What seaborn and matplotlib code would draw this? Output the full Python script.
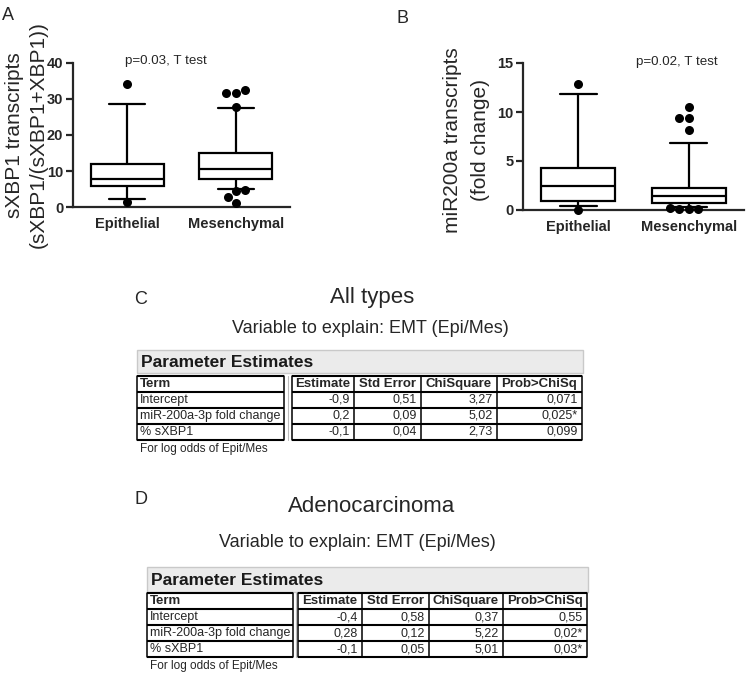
import numpy as np
import pandas as pd
import matplotlib
matplotlib.use("Agg")
import matplotlib.pyplot as plt
import seaborn as sns
from matplotlib.patches import Rectangle

# ---------------- data ----------------
categories = ["Epithelial", "Mesenchymal"]

# five-number summaries: [lower whisker, Q1, median, Q3, upper whisker]
sxbp1_epi_box = [2.1, 5.8, 7.7, 11.9, 28.6]
sxbp1_mes_box = [4.9, 7.7, 10.5, 15.0, 27.4]
sxbp1_epi_out = [34.1, 1.3]
sxbp1_mes_out = [31.8, 31.8, 32.6, 27.8, 4.8, 4.4, 2.7, 1.1]
sxbp1_ticks = [0, 10, 20, 30, 40]

mir_epi_box = [0.4, 0.95, 2.45, 4.3, 11.8]
mir_mes_box = [0.3, 0.75, 1.45, 2.25, 6.8]
mir_epi_out = [12.9, 0.05]
mir_mes_out = [10.5, 9.4, 9.4, 8.2, 0.1, 0.15, 0.1, 0.2]
mir_ticks = [0, 5, 10, 15]

table_header = ["Term", "Estimate", "Std Error", "ChiSquare", "Prob>ChiSq"]
terms = ["Intercept", "miR-200a-3p fold change", "% sXBP1"]
all_estimate = ["-0,9", "0,2", "-0,1"]
all_stderr = ["0,51", "0,09", "0,04"]
all_chisq = ["3,27", "5,02", "2,73"]
all_prob = ["0,071", "0,025*", "0,099"]
adeno_estimate = ["-0,4", "0,28", "-0,1"]
adeno_stderr = ["0,58", "0,12", "0,05"]
adeno_chisq = ["0,37", "5,22", "5,01"]
adeno_prob = ["0,55", "0,02*", "0,03*"]

# ---------------- style ----------------
sns.set_style("ticks")
plt.rcParams["font.family"] = ["Liberation Sans", "DejaVu Sans"]

W, H = 747, 677
fig = plt.figure(figsize=(W / 100, H / 100), dpi=100)


def rect(x0, y_bottom, w, h):
    return [x0 / W, 1 - y_bottom / H, w / W, h / H]


def box_panel(ax, box_epi, box_mes, out_epi, out_mes, ymax, ticks):
    df = pd.DataFrame({
        "group": [categories[0]] * len(box_epi) + [categories[1]] * len(box_mes),
        "value": box_epi + box_mes,
    })
    sns.boxplot(data=df, x="group", y="value", order=categories, whis=(0, 100),
                showfliers=False, width=0.67, color="white", linecolor="black",
                linewidth=1.6, saturation=1, ax=ax)
    dfo = pd.DataFrame({
        "group": [categories[0]] * len(out_epi) + [categories[1]] * len(out_mes),
        "value": out_epi + out_mes,
    })
    sns.swarmplot(data=dfo, x="group", y="value", order=categories, color="black",
                  size=6.5, ax=ax, zorder=5)
    for coll in ax.collections:
        coll.set_clip_on(False)
    ax.set_xlim(-0.5, 1.5)
    ax.set_ylim(0, ymax)
    ax.set_yticks(ticks)
    ax.set_xlabel("")
    ax.set_ylabel("")
    sns.despine(ax=ax)
    for s in ["left", "bottom"]:
        ax.spines[s].set_linewidth(1.6)
    ax.tick_params(axis="y", direction="out", length=5, width=1.6, labelsize=10.5, pad=2)
    ax.tick_params(axis="x", length=0, labelsize=10.5, pad=7)
    for lab in ax.get_yticklabels() + ax.get_xticklabels():
        lab.set_fontweight("bold")
    ax.patch.set_alpha(0)


axA = fig.add_axes(rect(73, 207, 217, 144))
box_panel(axA, sxbp1_epi_box, sxbp1_mes_box, sxbp1_epi_out, sxbp1_mes_out, 40, sxbp1_ticks)
axB = fig.add_axes(rect(523, 210, 221, 147))
box_panel(axB, mir_epi_box, mir_mes_box, mir_epi_out, mir_mes_out, 15, mir_ticks)

# overlay in pixel coordinates for text and tables
ov = fig.add_axes([0, 0, 1, 1])
ov.set_xlim(0, W)
ov.set_ylim(H, 0)
ov.axis("off")

ov.text(2, 20, "A", fontsize=13, va="baseline", ha="left")
ov.text(397, 23, "B", fontsize=13, va="baseline", ha="left")
ov.text(166, 64, "p=0.03, T test", fontsize=9.6, ha="center", va="baseline")
ov.text(677, 65, "p=0.02, T test", fontsize=9.6, ha="center", va="baseline")

ov.text(15, 135, "sXBP1 transcripts", fontsize=15, rotation=90, ha="center", va="center")
ov.text(38, 135, "(sXBP1/(sXBP1+XBP1))", fontsize=15, rotation=90, ha="center", va="center")
ov.text(452, 140, "miR200a transcripts", fontsize=15, rotation=90, ha="center", va="center")
ov.text(481, 140, "(fold change)", fontsize=15, rotation=90, ha="center", va="center")


def draw_table(letter, letter_xy, title, title_xy, sub_xy, band, col_edges, top, row_h,
               estimate, stderr, chisq, prob):
    ov.text(letter_xy[0], letter_xy[1], letter, fontsize=13, va="baseline", ha="left")
    ov.text(title_xy[0], title_xy[1], title, fontsize=16, ha="center", va="baseline")
    ov.text(sub_xy[0], sub_xy[1], "Variable to explain: EMT (Epi/Mes)", fontsize=13,
            ha="center", va="baseline")
    bx0, by0, bx1, by1 = band
    ov.add_patch(Rectangle((bx0, by0), bx1 - bx0, by1 - by0, facecolor="#ebebeb",
                           edgecolor="#c9c9c9", lw=1))
    ov.text(bx0 + 4, (by0 + by1) / 2 + 1, "Parameter Estimates", fontsize=12.5,
            fontweight="bold", ha="left", va="center", color="#1a1a1a")
    nrows = len(terms) + 1
    bottom = top + nrows * row_h
    t0, t1, g1, *rest = col_edges
    right = col_edges[-1]
    for x0, x1 in [(t0, t1), (g1, right)]:
        for i in range(nrows + 1):
            y = top + i * row_h
            ov.plot([x0, x1], [y, y], color="black", lw=1.5, solid_capstyle="butt")
        ov.plot([x0, x0], [top, bottom], color="black", lw=1.1)
        ov.plot([x1, x1], [top, bottom], color="black", lw=1.1)
    for x in rest[:-1]:
        ov.plot([x, x], [top, bottom], color="black", lw=1.1)
    ov.plot([(t1 + g1) / 2] * 2, [top, bottom], color="#bbbbbb", lw=0.8)
    numeric_edges = [g1] + rest
    columns = [estimate, stderr, chisq, prob]
    yc = top + row_h / 2
    ov.text(t0 + 3, yc, table_header[0], fontsize=9.5, fontweight="bold", ha="left", va="center")
    for j, name in enumerate(table_header[1:]):
        xc = (numeric_edges[j] + numeric_edges[j + 1]) / 2
        ov.text(xc, yc, name, fontsize=9.5, fontweight="bold", ha="center", va="center")
    for i, term in enumerate(terms):
        yc = top + (i + 1.5) * row_h
        ov.text(t0 + 3, yc, term, fontsize=9, ha="left", va="center")
        for j, col in enumerate(columns):
            xr = numeric_edges[j + 1] - 4
            ov.text(xr, yc, col[i], fontsize=9, ha="right", va="center")
    ov.text(t0 + 3, bottom + 12, "For log odds of Epit/Mes", fontsize=8.5, ha="left",
            va="baseline")


draw_table("C", (134, 304), "All types", (372, 303), (370, 333),
           (137, 350, 583, 373), [137, 284, 292, 354, 421, 497, 582], 376, 16,
           all_estimate, all_stderr, all_chisq, all_prob)
draw_table("D", (134, 504), "Adenocarcinoma", (372, 512), (357, 547),
           (147, 567, 588, 592), [147, 293, 298, 362, 429, 503, 587], 593, 16,
           adeno_estimate, adeno_stderr, adeno_chisq, adeno_prob)

fig.savefig("out.png", dpi=100)
